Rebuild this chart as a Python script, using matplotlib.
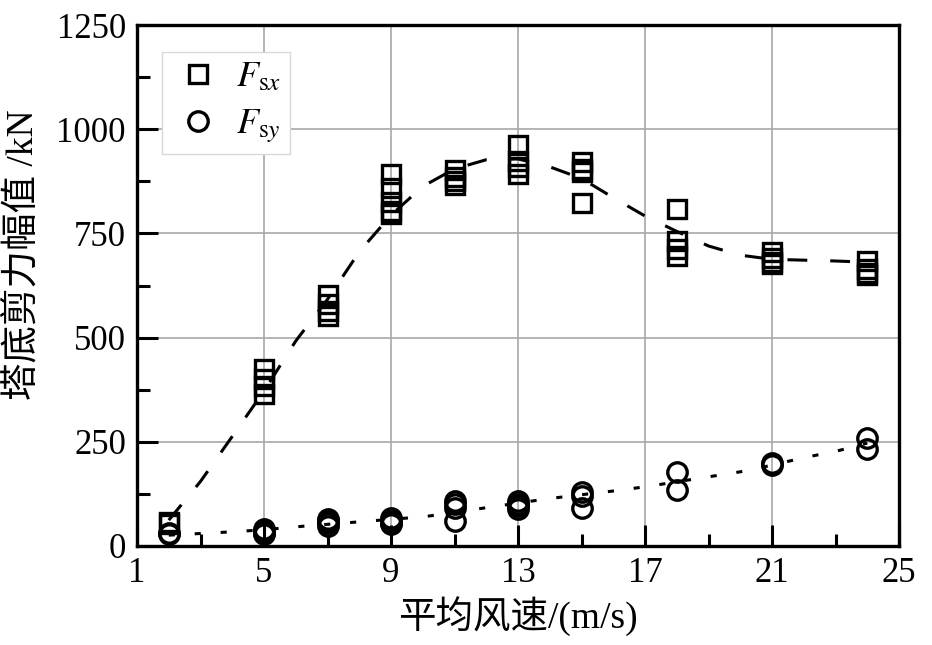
import matplotlib
matplotlib.use('Agg')
import matplotlib.pyplot as plt
import numpy as np

plt.rcParams['font.family'] = ['Liberation Serif', 'Noto Sans CJK SC']
plt.rcParams['mathtext.fontset'] = 'stix'

# wind speeds and measured amplitudes (several samples per speed)
ws = [2, 5, 7, 9, 11, 13, 15, 18, 21, 24]
fsx = [[58, 52], [424, 400, 385, 365], [603, 580, 565, 552],
       [892, 860, 825, 805, 796], [902, 885, 875, 866], [962, 925, 910, 892],
       [922, 905, 898, 823], [808, 731, 712, 695], [706, 690, 682, 677],
       [684, 665, 656, 650]]
fsy = [[32, 28], [40, 36, 32, 28], [64, 60, 56, 48], [66, 60, 55, 52],
       [108, 100, 92, 60], [108, 100, 95, 88], [130, 120, 92], [178, 135],
       [200, 195], [260, 232]]

# fitted trend curves
trend_x = [2, 3, 4, 5, 6, 7, 8, 9, 10, 11, 12, 13, 14, 15, 16, 17, 18, 19, 20, 21, 22, 23, 24]
trend_sx = [62, 155, 263, 372, 492, 592, 706, 794, 863, 905, 927, 929, 910, 882,
            836, 792, 755, 720, 698, 688, 686, 684, 681]
trend_sy = [26, 30, 34, 39, 46, 52, 58, 64, 70, 80, 92, 103, 114, 123,
            132, 142, 154, 166, 178, 194, 212, 227, 247]

fig = plt.figure(figsize=(9.32, 6.45), dpi=100)
ax = fig.add_axes([0.147, 0.1535, 0.8176, 0.8075])

xs_x = [w for w, v in zip(ws, fsx) for _ in v]
ys_x = [y for v in fsx for y in v]
xs_y = [w for w, v in zip(ws, fsy) for _ in v]
ys_y = [y for v in fsy for y in v]

ax.plot(trend_x, trend_sx, color='k', lw=2.2, dashes=(6.5, 7.5), zorder=3)
ax.plot(trend_x, trend_sy, color='k', lw=2.2, dashes=(2.0, 6.5), zorder=3)
ax.plot(xs_x, ys_x, ls='none', marker='s', ms=12.5, mfc='none', mec='k', mew=2.4,
        label=r'$F_{\mathrm{s}x}$', zorder=4)
ax.plot(xs_y, ys_y, ls='none', marker='o', ms=14, mfc='none', mec='k', mew=2.4,
        label=r'$F_{\mathrm{s}y}$', zorder=4)

ax.set_xlim(1, 25)
ax.set_ylim(0, 1250)
ax.set_xticks(np.arange(1, 26, 4))
ax.set_xticks(np.arange(3, 25, 4), minor=True)
ax.set_yticks(np.arange(0, 1251, 250))
ax.set_yticks(np.arange(125, 1250, 250), minor=True)
ax.tick_params(which='both', direction='in', top=False, right=False,
               width=2.2, labelsize=25, pad=8)
ax.tick_params(which='major', length=15)
ax.tick_params(which='minor', length=9)
ax.grid(True, which='major', color='#a8a8a8', lw=1.2)
ax.set_axisbelow(True)
for s in ax.spines.values():
    s.set_linewidth(2.4)

ax.set_xlabel('平均风速/(m/s)', fontsize=27, labelpad=4)
ax.set_ylabel('塔底剪力幅值 /kN', fontsize=27)
ax.yaxis.set_label_coords(-0.125, 0.56)

leg = ax.legend(loc='upper left', bbox_to_anchor=(0.033, 0.948), borderaxespad=0,
                fontsize=26, fancybox=False, framealpha=1, edgecolor='#d8d8d8',
                handletextpad=0.3, labelspacing=0.35, borderpad=0.25, handlelength=1.5)
leg.get_frame().set_linewidth(1.0)

fig.savefig('out.png', dpi=100)
